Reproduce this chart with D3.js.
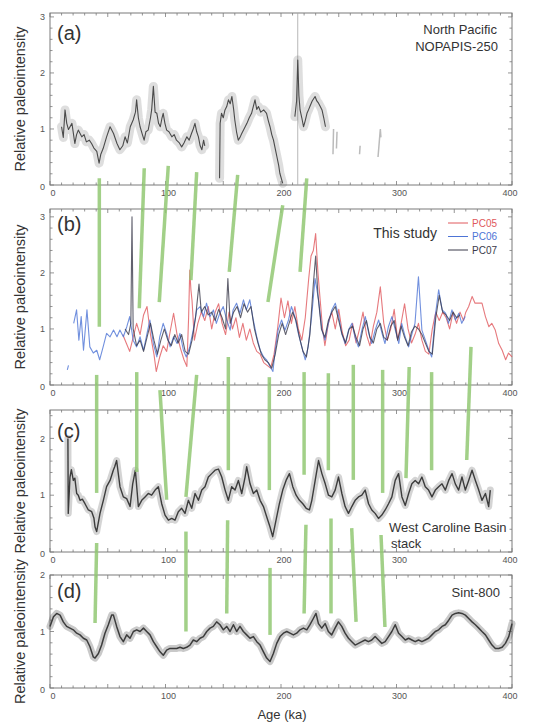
<!DOCTYPE html>
<html>
<head>
<meta charset="utf-8">
<script src="https://cdn.jsdelivr.net/npm/d3@7"></script>
<style>
  body { margin: 0; background: #fff; }
  svg text { font-family: "Liberation Sans", Arial, sans-serif; }
</style>
</head>
<body>
<div id="chart"></div>
<script>
//---------------------------------//
// Data        //
//---------------------------------//

var xTicks = [0, 100, 200, 300, 400];

// (a) North Pacific NOPAPIS-250 : [age ka, relative paleointensity]
var nopapis = [[10,1.04],[11.5,0.85],[13,1.34],[14.5,1.1],[16,0.99],[19,1.1],[21.5,0.74],[23,0.9],[24.5,0.98],[27.5,0.86],[29.5,0.9],[31.5,0.77],[34,0.8],[36,0.74],[38,0.66],[40.5,0.6],[42.5,0.39],[44,0.55],[46,0.65],[49,0.86],[52,1.04],[55,0.92],[58,0.74],[60.5,0.63],[63,0.7],[65,0.86],[67,0.75],[69.5,1.04],[72,1.16],[74,1.3],[75,1.52],[76.5,1.2],[78,1.04],[80,0.9],[81.5,0.8],[83,0.95],[85,0.98],[87,1.2],[88,1.34],[89.5,1.76],[91,1.3],[92.5,1.28],[94,1.1],[95.5,1.04],[97,1.2],[98,1.28],[99.5,1.1],[101,0.98],[103,0.95],[105.5,0.86],[107.5,0.9],[109.5,0.8],[112,0.75],[114,0.68],[116,0.75],[118.5,0.86],[120.5,0.8],[122.5,0.92],[124,1.0],[125.5,1.1],[127,0.95],[128.5,0.86],[130,0.7],[131.5,0.63],[133,0.8],[134,0.7],[140,null],
  [146.8,0.12],[147.3,1.1],[148.5,1.28],[150,1.2],[151.5,1.34],[153,1.4],[154.5,1.52],[156,1.45],[157.5,1.58],[159,1.35],[160,1.16],[161.5,0.95],[163,0.8],[164.5,0.85],[166,0.92],[168,1.0],[170.5,1.1],[172.5,1.2],[174.5,1.28],[176,1.4],[177.5,1.52],[179,1.35],[180.5,1.4],[182.5,1.3],[185,1.34],[187.5,1.28],[189,1.15],[190.5,1.04],[192,0.9],[193.5,0.8],[195,0.65],[196.5,0.5],[198,0.35],[199,0.21],[200.5,0.1],[201.5,0.03],[206,null],
  [212,1.22],[213.5,1.5],[214.5,2.23],[215.5,1.6],[216.5,1.34],[218,1.2],[219.5,1.04],[221,1.15],[222.5,1.28],[224,1.35],[225,1.4],[227,1.5],[229.5,1.58],[231,1.5],[232.5,1.46],[234,1.4],[235.5,1.34],[237,1.2],[238.5,1.04]];
var nopapisSparse = [[245,0.55],[245.5,1.0],[247,null],[248,0.65],[248.5,0.95],[250,null],[268,0.55],[268.5,0.7],[270,null],[284,0.5],[285,0.75],[286,1.0],[286.5,0.85]];
var nopapisSpike = [[214.5, 0, 3.07]];   // [age, low, high]

// (b) This study
var pc05 = [[63,0.9],[66,0.75],[69,0.6],[72,0.85],[75,1.1],[78,0.9],[81,1.25],[84,1.4],[87,0.9],[90,0.55],[92,0.24],[95,0.5],[98,0.7],[101,0.6],[104,0.95],[107,1.28],[110,0.9],[113,0.65],[116,0.45],[118.5,0.33],[120,1.2],[121,2.05],[122,1.7],[123,1.5],[125,0.8],[128,1.1],[131,1.3],[134,1.15],[137,1.4],[140,1.0],[143,1.3],[146,1.45],[149,1.1],[152,0.9],[155,1.3],[158,1.0],[161,1.2],[164,0.85],[167,1.1],[170,0.8],[173,1.0],[176,0.75],[179,0.6],[182,0.55],[185,0.4],[188,0.35],[191,0.3],[194,0.55],[197,1.0],[200,1.55],[203,1.2],[206,1.5],[209,1.1],[212,1.4],[215,1.0],[218,0.8],[221,1.2],[224,1.9],[226,2.3],[228,2.4],[230,2.7],[232,2.0],[234,1.5],[236,1.0],[238,0.7],[241,1.1],[244,1.3],[247,1.0],[250,1.35],[253,0.95],[256,0.7],[259,0.8],[262,1.1],[265,0.75],[268,1.0],[271,1.3],[274,0.9],[277,0.7],[280,1.05],[283,1.3],[286,1.75],[289,1.1],[292,0.8],[295,1.0],[298,1.35],[301,0.8],[304,1.1],[307,1.45],[310,1.0],[313,0.75],[316,0.9],[319,1.1],[322,0.8],[325,0.6],[328,0.55],[331,1.0],[334,1.3],[337,1.15],[340,1.3],[343,1.2],[346,1.0],[349,1.3],[352,1.1],[355,1.3],[358,1.15],[360,1.3],[362.5,1.4],[365.5,1.58],[368,1.46],[371,1.46],[374,1.46],[377,1.22],[380,1.04],[382.5,1.1],[385.5,0.98],[388.5,0.74],[391.5,0.62],[394.5,0.45],[397,0.57],[400,0.5]];
var pc06 = [[15,0.27],[16,0.35],[18,null],[20.5,1.1],[23,1.34],[25,0.8],[27,1.22],[29,0.62],[32,1.34],[34.5,0.68],[37.5,0.57],[40.5,0.62],[43,0.45],[46,0.68],[49,0.92],[52,0.86],[55,0.98],[58,0.86],[60.5,0.98],[63.5,0.86],[66.5,1.04],[69,1.22],[72,0.8],[75,0.68],[78,0.86],[81,0.62],[84,0.92],[86.5,1.16],[89.5,0.74],[92.5,0.5],[95,0.86],[98,1.1],[101,0.92],[104,0.68],[107,0.86],[110,0.74],[112.5,0.92],[115.5,0.62],[118,0.5],[121,0.68],[124,0.98],[127,1.34],[130,1.4],[133,1.22],[135.5,1.46],[138.5,1.22],[141.5,1.34],[144,1.1],[147,1.28],[150,1.4],[153,1.16],[156,0.98],[158.5,1.34],[161.5,1.46],[164.5,1.28],[167.5,1.52],[170,1.34],[173,1.52],[176,1.16],[179,0.86],[182,0.62],[185,0.5],[187.5,0.45],[190.5,0.33],[193,0.24],[195,0.62],[197.5,0.98],[200.5,1.16],[203.5,0.98],[206.5,1.16],[209,1.4],[212,1.22],[215,0.92],[218,0.68],[221,0.45],[223.5,0.68],[226.5,1.22],[229.5,1.9],[232.5,1.52],[235.5,0.98],[238,0.8],[241,1.1],[244,1.34],[247,1.46],[250,1.22],[252.5,0.92],[255.5,0.74],[258.5,0.98],[261.5,1.1],[264,0.86],[267,0.68],[270,0.98],[273,1.22],[276,0.92],[278.5,0.74],[281.5,0.98],[284.5,1.16],[287.5,0.92],[290,0.74],[293,1.04],[296,1.22],[299,0.98],[302,0.74],[304.5,1.1],[307.5,0.86],[310.5,0.68],[313.5,0.92],[316,1.1],[319,1.93],[322,0.98],[325,0.8],[328,0.62],[330.5,0.5],[333.5,1.22],[336.5,1.7],[339.5,1.34],[342.5,1.28],[345,1.1],[348,1.34],[351,1.16],[354,1.28],[356.5,1.1],[359.5,1.22]];
var pc07 = [[65,1.0],[68,0.9],[70,1.1],[71,3.0],[72,1.0],[75,0.7],[78,0.8],[81,0.6],[84,0.85],[87,1.1],[90,0.8],[93,0.55],[96,0.8],[99,1.0],[102,0.8],[105,0.7],[108,0.9],[111,0.75],[114,0.9],[117,0.6],[120,0.55],[123,0.8],[126,1.2],[129,1.8],[131,1.3],[134,1.4],[137,1.25],[140,1.3],[143,1.15],[146,1.35],[149,1.2],[152,1.0],[154,1.9],[156,1.1],[159,1.3],[162,1.4],[165,1.2],[168,1.45],[171,1.3],[174,1.4],[177,1.0],[180,0.75],[183,0.55],[186,0.45],[189,0.4],[192,0.3],[195,0.55],[198,0.9],[201,1.1],[204,0.9],[207,1.1],[210,1.3],[213,1.15],[216,0.85],[219,0.6],[222,0.5],[225,0.9],[228,1.8],[230,2.3],[232,1.6],[235,1.0],[238,0.85],[241,1.15],[244,1.3],[247,1.4],[250,1.15],[253,0.9],[256,0.75],[259,1.0],[262,1.05],[265,0.85],[268,0.7],[271,1.0],[274,1.15],[277,0.85],[280,0.75],[283,1.0],[286,1.1],[289,0.85],[292,0.8],[295,1.05],[298,1.15],[301,0.8],[304,1.05],[307,0.85],[310,0.7],[313,0.95],[316,1.05],[319,1.0],[322,0.9],[325,0.75],[328,0.6],[331,0.55],[334,1.2],[337,1.6],[340,1.3],[343,1.25],[346,1.15],[349,1.3],[352,1.2],[355,1.25]];
var legendNames = ["PC05", "PC06", "PC07"];

// (c) West Caroline Basin stack
var wcb = [[15.5,2.0],[15.8,0.68],[17.3,1.32],[18.5,1.45],[20.2,1.26],[21.5,1.3],[23.1,1.03],[24.5,1.0],[26,0.91],[28,0.93],[30.3,0.85],[33.2,0.74],[36.1,0.71],[38,0.6],[39,0.44],[40.4,0.36],[43.3,0.68],[46.2,0.91],[49,1.15],[52,1.26],[54.8,1.44],[56,1.5],[57.7,1.61],[59,1.4],[60.6,1.15],[63.5,0.97],[66.4,0.94],[69.3,0.8],[71.6,1.2],[73.9,1.44],[76.5,0.8],[79.4,0.91],[82.3,0.97],[85.1,1.03],[88,1.0],[91,1.09],[93.8,1.15],[96.7,0.85],[99.6,0.65],[102.5,0.56],[105.4,0.59],[108.2,0.56],[111.1,0.71],[114,0.77],[116.9,0.68],[119.8,0.91],[122.7,0.77],[125.6,1.03],[128.5,0.91],[131.4,1.09],[134.2,1.15],[137.1,1.32],[140,1.38],[142.9,1.44],[145.8,1.46],[148.7,1.32],[151.6,1.09],[154.4,0.91],[157.3,1.15],[160.2,1.09],[163.1,1.26],[166,1.03],[168.9,1.32],[170.3,1.5],[173.2,1.2],[176.1,1.03],[179,1.09],[181.9,0.91],[184.8,0.8],[187.6,0.62],[190.5,0.44],[192.8,0.27],[195.7,0.56],[198.6,0.85],[201.5,1.09],[204.4,1.26],[207.3,1.38],[210.2,1.15],[213.1,1.0],[216,0.91],[218.9,0.85],[221.8,0.77],[224.6,0.74],[226.7,0.91],[229.6,1.26],[232.5,1.61],[235.4,1.38],[238.3,1.2],[241.1,1.0],[244,0.97],[246.9,1.09],[249.8,1.32],[252.7,1.03],[255.5,0.8],[258.4,0.68],[261.3,0.8],[264.2,0.91],[267.1,0.97],[270,1.0],[272.9,1.09],[275.8,0.85],[278.6,0.74],[281.5,0.68],[284.4,0.59],[287.3,0.65],[290.2,0.74],[293.1,0.85],[296,0.97],[298.9,1.26],[301.8,1.38],[304.7,0.97],[307.6,0.82],[310.5,1.03],[313.3,1.2],[316.2,1.26],[319.1,1.2],[322,1.32],[324.9,1.15],[327.8,1.09],[330.7,0.97],[333.6,1.09],[336.5,1.15],[339.4,1.2],[342.3,1.09],[345.2,1.26],[348.1,1.38],[350.9,1.2],[353.8,1.09],[356.7,1.32],[359.6,1.09],[362.5,1.26],[365.4,1.44],[368.3,1.26],[371.2,1.09],[374,0.91],[377,1.03],[379.8,0.8],[381.2,1.09]];

// (d) Sint-800
var sint800 = [[0,1.09],[3,1.26],[5.8,1.32],[8.7,1.29],[11.5,1.17],[14.4,1.09],[17.3,1.06],[20.2,1.03],[23.1,0.97],[26,0.94],[28.9,0.88],[31.8,0.85],[34.6,0.73],[37.5,0.55],[39,0.53],[41.9,0.61],[44.7,0.76],[47.6,0.97],[50.5,1.12],[53.4,1.29],[54.9,1.29],[57.7,1.09],[60.6,0.91],[63.5,0.82],[66.4,0.94],[69.3,0.88],[72.2,1.0],[75.1,1.03],[78,1.0],[80.9,1.06],[83.7,1.0],[86.6,0.94],[89.5,0.82],[92.4,0.73],[95.3,0.64],[98.1,0.58],[101,0.67],[103.9,0.7],[106.8,0.7],[109.7,0.7],[112.6,0.72],[115.4,0.7],[118.3,0.72],[121.2,0.76],[124.1,0.85],[127,0.82],[129.9,0.88],[132.8,0.91],[135.7,1.0],[138.6,1.06],[141.4,1.09],[144.3,1.17],[147.2,1.12],[150.1,1.03],[153,1.09],[155.9,1.0],[158.8,1.12],[161.6,1.0],[164.5,1.09],[167.4,1.0],[170.3,0.94],[173.2,0.88],[176.1,0.91],[179,0.82],[181.9,0.76],[184.8,0.64],[187.6,0.53],[190.5,0.47],[193.4,0.61],[196.3,0.79],[199.2,0.91],[202.1,0.97],[205,1.0],[207.8,0.97],[210.7,0.94],[213.6,0.97],[216.5,1.03],[219.4,1.06],[222.3,1.03],[225.1,1.12],[228,1.23],[230.3,1.32],[232.4,1.14],[235.3,1.06],[238.2,1.14],[241,1.0],[243.9,0.94],[246.8,1.06],[249.7,1.17],[252.6,1.09],[255.5,0.97],[258.4,0.88],[261.3,0.82],[264.2,0.76],[267.1,0.79],[270,0.82],[272.8,0.85],[275.7,0.82],[278.6,0.85],[281.5,0.91],[284.4,0.85],[287.3,0.79],[290.2,0.82],[293.1,0.91],[296,1.0],[298.9,1.12],[301.8,0.97],[304.7,0.91],[307.6,0.85],[310.5,0.88],[313.3,0.85],[316.2,0.82],[319.1,0.85],[322,0.82],[324.9,0.85],[327.8,0.88],[330.7,0.94],[333.6,1.0],[336.5,1.03],[339.4,1.09],[342.3,1.12],[345.2,1.2],[348.1,1.29],[351,1.32],[353.8,1.33],[356.7,1.32],[359.6,1.29],[362.5,1.23],[365.4,1.17],[368.3,1.12],[371.2,1.06],[374,1.0],[377,0.94],[379.8,0.85],[382.7,0.76],[385.6,0.7],[388.5,0.7],[391.4,0.72],[394.3,0.79],[397.2,0.91],[400,1.14]];

// green tie lines: [age upper, value in upper panel, age lower, value in lower panel]
var tiesAB = [[42.7,0.12,42.7,1.04],[81.6,0.3,77.3,1.37],[102.4,0.34,94.6,1.48],[127,0.23,122,1.87],[162.5,0.18,155.2,2.02],[201.5,-0.36,188.7,1.48],[222.3,0.12,216.5,2.02]];
var tiesBC = [[40.4,0.18,40.4,1.04],[75.1,0.23,75.1,1.41],[95.2,-0.09,101,0.92],[127,0.18,117.7,0.97],[154.4,0.5,154.4,1.44],[189.9,0.14,189.9,1.09],[220,0.23,220,1.36],[241,0.21,241,1.44],[262.6,0.36,262.6,1.27],[288,0.27,288,1.04],[311,0.32,308.2,1.3],[330.4,0.23,330.4,1.44],[364.5,0.68,360.8,1.62]];
var tiesCD = [[40.4,0.16,39,1.15],[117.7,0.36,117.7,1.0],[153.8,0.56,153,1.32],[190.5,-0.28,190.5,0.94],[221.6,0.48,220,1.32],[243.3,0.59,243.3,1.32],[261.2,0.42,265,1.17],[286.6,0.3,290,1.08]];

//---------------------------------//
// Figure                          //
//---------------------------------//

window.Fig = window.Fig || {};

Fig.init = function() {
    Fig.setup.initConsts();
    Fig.setup.initSvg();
    Fig.setup.initPanels();

    Fig.draw.frames();
    Fig.draw.series();
    Fig.draw.ties();
    Fig.draw.labels();
};

Fig.setup = {
    initConsts: function() {
        Fig.width = 545;
        Fig.height = 722;
        Fig.left = 50;
        Fig.right = 512;

        Fig.frameColor = '#7a7a7a';
        Fig.tickColor = '#555';
        Fig.green = '#92c873';
    },

    initSvg: function() {
        Fig.svg = d3.select('#chart').append('svg')
                    .attr('width', Fig.width)
                    .attr('height', Fig.height);

        Fig.x = d3.scaleLinear().domain([0, 400]).range([Fig.left, Fig.right]);
    },

    initPanels: function() {        // box top/bottom in px, y max value
        Fig.panels = {
            a: { top: 13,  bottom: 185, ymax: 3.07, yticks: [0, 1, 2, 3] },
            b: { top: 209, bottom: 385, ymax: 3.14, yticks: [0, 1, 2, 3] },
            c: { top: 410, bottom: 552, ymax: 2.5,  yticks: [0, 1, 2] },
            d: { top: 575, bottom: 688, ymax: 2.0,  yticks: [0, 1, 2] }
        };
        Object.keys(Fig.panels).forEach(function(k) {
            var p = Fig.panels[k];
            p.y = d3.scaleLinear().domain([0, p.ymax]).range([p.bottom, p.top]);
        });
    }
};

Fig.draw = {
    frames: function() {
        var x = Fig.x;
        Object.keys(Fig.panels).forEach(function(k) {
            var p = Fig.panels[k];
            var g = Fig.svg.append('g').attr('class', 'frame-' + k);

            g.append('rect')
             .attr('x', Fig.left).attr('y', p.top)
             .attr('width', Fig.right - Fig.left).attr('height', p.bottom - p.top)
             .attr('fill', 'none').attr('stroke', Fig.frameColor).attr('stroke-width', 1);

            // x ticks, inward, top and bottom
            var minorX = d3.range(0, 401, 10);
            minorX.forEach(function(v) {
                var len = (v % 50 === 0) ? 4 : 2.5;
                g.append('line').attr('x1', x(v)).attr('x2', x(v))
                 .attr('y1', p.bottom).attr('y2', p.bottom - len)
                 .attr('stroke', Fig.frameColor).attr('stroke-width', 0.8);
                g.append('line').attr('x1', x(v)).attr('x2', x(v))
                 .attr('y1', p.top).attr('y2', p.top + len)
                 .attr('stroke', Fig.frameColor).attr('stroke-width', 0.8);
            });

            // y ticks, inward, left and right
            var minorY = d3.range(0, p.ymax + 0.001, 0.2);
            minorY.forEach(function(v) {
                var major = Math.abs(v - Math.round(v)) < 0.01;
                var len = major ? 4 : 2.5;
                g.append('line').attr('x1', Fig.left).attr('x2', Fig.left + len)
                 .attr('y1', p.y(v)).attr('y2', p.y(v))
                 .attr('stroke', Fig.frameColor).attr('stroke-width', 0.8);
                g.append('line').attr('x1', Fig.right).attr('x2', Fig.right - len)
                 .attr('y1', p.y(v)).attr('y2', p.y(v))
                 .attr('stroke', Fig.frameColor).attr('stroke-width', 0.8);
            });

            // tick labels
            g.selectAll('text.yt').data(p.yticks).enter().append('text')
             .attr('class', 'yt')
             .attr('x', Fig.left - 5).attr('y', function(d) { return p.y(d); })
             .attr('dy', function(d) { return d === 0 ? '0.5em' : '0.35em'; })
             .attr('text-anchor', 'end')
             .attr('font-size', 9).attr('fill', Fig.tickColor)
             .text(function(d) { return d; });

            g.selectAll('text.xt').data(xTicks).enter().append('text')
             .attr('class', 'xt')
             .attr('x', function(d) { return x(d) + (d === 400 ? -2 : 3); })
             .attr('y', p.bottom + 11)
             .attr('text-anchor', 'middle')
             .attr('font-size', 9).attr('fill', Fig.tickColor)
             .text(function(d) { return d; });
        });
    },

    series: function() {
        var x = Fig.x;
        function lineFor(p) {
            return d3.line()
                     .defined(function(d) { return d[1] !== null; })
                     .x(function(d) { return x(d[0]); })
                     .y(function(d) { return p.y(d[1]); });
        }
        function blurred(p, data, color, bandWidth, bandOpacity, lineWidth) {
            var line = lineFor(p);
            Fig.svg.append('path').datum(data).attr('d', line)
               .attr('fill', 'none').attr('stroke', color)
               .attr('stroke-width', bandWidth).attr('stroke-opacity', bandOpacity)
               .attr('stroke-linejoin', 'round').attr('stroke-linecap', 'round');
            Fig.svg.append('path').datum(data).attr('d', line)
               .attr('fill', 'none').attr('stroke', color)
               .attr('stroke-width', lineWidth).attr('stroke-linejoin', 'round');
        }

        // (a)
        var pa = Fig.panels.a;
        Fig.svg.selectAll('line.spike').data(nopapisSpike).enter().append('line')
           .attr('x1', function(d) { return x(d[0]); }).attr('x2', function(d) { return x(d[0]); })
           .attr('y1', function(d) { return pa.y(d[1]); }).attr('y2', function(d) { return pa.y(d[2]); })
           .attr('stroke', '#a5a5a5').attr('stroke-width', 0.8);
        Fig.svg.append('path').datum(nopapisSparse).attr('d', lineFor(pa))
           .attr('fill', 'none').attr('stroke', '#bbb').attr('stroke-width', 1.5);
        blurred(pa, nopapis, '#4a4a4a', 9, 0.18, 1.1);

        // (b)
        var pb = Fig.panels.b;
        var bseries = [[pc05, '#e0585c'], [pc06, '#4d74d6'], [pc07, '#3a3a4a']];
        bseries.forEach(function(s) {
            Fig.svg.append('path').datum(s[0]).attr('d', lineFor(pb))
               .attr('fill', 'none').attr('stroke', s[1])
               .attr('stroke-width', 1.1).attr('stroke-opacity', 0.8)
               .attr('stroke-linejoin', 'round');
        });

        // legend
        var leg = Fig.svg.append('g').attr('class', 'legend');
        legendNames.forEach(function(name, i) {
            var yy = 223 + i * 13.5;
            leg.append('line').attr('x1', 448).attr('x2', 468).attr('y1', yy).attr('y2', yy)
               .attr('stroke', bseries[i][1]).attr('stroke-width', 1);
            leg.append('text').attr('x', 472).attr('y', yy).attr('dy', '0.35em')
               .attr('font-size', 10).attr('fill', bseries[i][1]).text(name);
        });

        // (c)
        blurred(Fig.panels.c, wcb, '#3c3c3c', 7, 0.22, 1.4);

        // (d)
        blurred(Fig.panels.d, sint800, '#3c3c3c', 7, 0.28, 1.5);
    },

    ties: function() {
        var x = Fig.x;
        var groups = [[tiesAB, 'a', 'b'], [tiesBC, 'b', 'c'], [tiesCD, 'c', 'd']];
        groups.forEach(function(gr) {
            var up = Fig.panels[gr[1]], lo = Fig.panels[gr[2]];
            Fig.svg.append('g').selectAll('line').data(gr[0]).enter().append('line')
               .attr('x1', function(d) { return x(d[0]); })
               .attr('y1', function(d) { return up.y(d[1]); })
               .attr('x2', function(d) { return x(d[2]); })
               .attr('y2', function(d) { return lo.y(d[3]); })
               .attr('stroke', Fig.green).attr('stroke-width', 3.5)
               .attr('stroke-opacity', 0.85);
        });
    },

    labels: function() {
        var svg = Fig.svg;
        var tags = [['(a)', 'a', 33], ['(b)', 'b', 224], ['(c)', 'c', 431], ['(d)', 'd', 591]];
        tags.forEach(function(t) {
            svg.append('text').attr('x', 57).attr('y', t[2]).attr('dy', '0.35em')
               .attr('font-size', 20).attr('fill', '#333').text(t[0]);

            var p = Fig.panels[t[1]];
            svg.append('text')
               .attr('transform', 'translate(20,' + ((p.top + p.bottom) / 2) + ') rotate(-90)')
               .attr('text-anchor', 'middle').attr('dy', '0.35em')
               .attr('font-size', 14.5).attr('fill', '#333')
               .text('Relative paleointensity');
        });

        function label(txt, x, y, anchor, size) {
            svg.append('text').attr('x', x).attr('y', y).attr('dy', '0.35em')
               .attr('text-anchor', anchor).attr('font-size', size).attr('fill', '#333').text(txt);
        }
        label('North Pacific', 497, 29, 'end', 13);
        label('NOPAPIS-250', 498, 46, 'end', 13);
        label('This study', 437, 233, 'end', 14);
        label('West Caroline Basin', 389, 527, 'start', 13);
        label('stack', 391, 543, 'start', 13);
        label('Sint-800', 500, 592, 'end', 13);
        label('Age (ka)', 282, 714, 'middle', 13);
    }
};

document.addEventListener('DOMContentLoaded', Fig.init);
</script>
</body>
</html>
